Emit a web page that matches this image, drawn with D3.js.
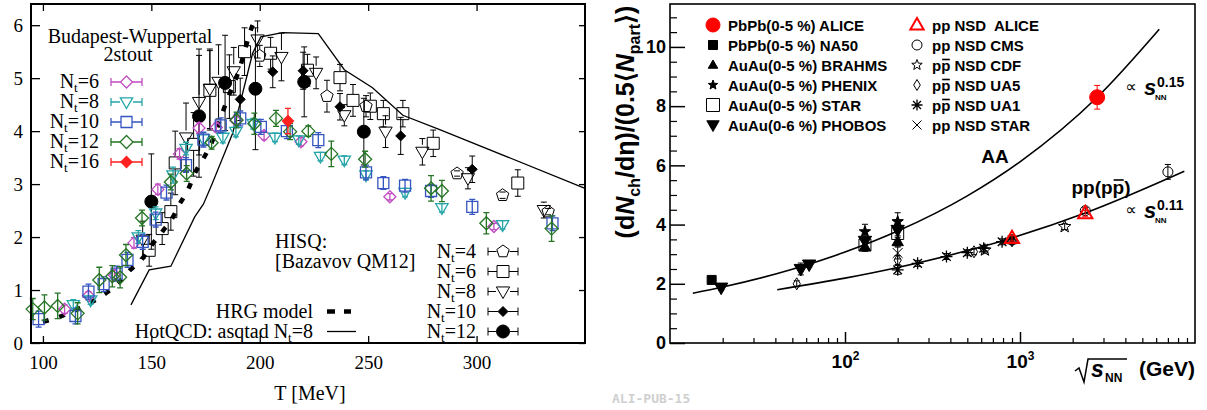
<!DOCTYPE html>
<html>
<head>
<meta charset="utf-8">
<script src="https://cdn.jsdelivr.net/npm/d3@7"></script>
<style>
body { margin: 0; background: #fff; }
svg { display: block; }
.serif { font-family: "Liberation Serif", "Times New Roman", serif; }
.sans { font-family: "Liberation Sans", Arial, sans-serif; font-weight: bold; }
</style>
</head>
<body>
<svg width="1207" height="410"></svg>
<script>
// ---------------- left panel data: [T (MeV), (e-3p)/T^4, error] ----------------
var bwNt6 = [[110,0.64,0.08],[121,0.89,0.08],[133,1.28,0.1],[142,1.89,0.1],[153,2.9,0.1],[163,3.57,0.1],
  [172,4.06,0.1],[180,4.07,0.08],[189,4.2,0.1],[202,3.92,0.08],[219,3.8,0.08],[260,2.76,0.06],[308,2.2,0.06]];
var bwNt8 = [[114,0.72,0.1],[122,0.81,0.08],[144,2.0,0.12],[152,2.45,0.12],[160,3.17,0.15],[166,3.67,0.12],
  [174,3.85,0.12],[183,3.88,0.1],[189,3.99,0.1],[197,4.14,0.1],[207,3.88,0.08],[218,3.83,0.08],[228,3.52,0.08],
  [239,3.45,0.08],[249,3.17,0.08],[267,2.84,0.08],[284,2.55,0.08],[312,2.23,0.08]];
var bwNt10 = [[98,0.45,0.15],[115,0.51,0.15],[121,0.97,0.14],[128,1.11,0.14],[134,1.31,0.14],[139,1.57,0.14],
  [146,1.91,0.14],[152,2.33,0.14],[157,2.84,0.14],[166,3.36,0.14],[174,3.84,0.14],[182,4.11,0.14],[191,4.24,0.14],
  [200.5,4.08,0.14],[212.5,4.0,0.14],[227,3.83,0.14],[249,3.22,0.14],[257,3.02,0.12],[267,2.97,0.12],
  [279,2.87,0.12],[298,2.57,0.14],[335,2.26,0.14]];
var bwNt12 = [[95.3,0.64,0.2],[100.7,0.67,0.24],[106.8,0.7,0.24],[116,0.56,0.2],[126,1.19,0.24],[132,1.26,0.2],
  [135.6,1.24,0.2],[138.3,1.66,0.2],[145.7,2.36,0.15],[159,3.04,0.15],[166.3,3.2,0.15],[177.8,3.78,0.12],
  [189.3,4.21,0.15],[197.5,4.14,0.2],[207.5,4.24,0.15],[214,3.99,0.15],[222.4,4.0,0.1],[233,3.57,0.24],
  [248.6,3.47,0.15],[279,2.92,0.24],[284,2.87,0.2],[304.5,2.26,0.2],[334.6,2.16,0.24]];
var bwNt16 = [[213,4.19,0.24]];

var hisqNt4 = [[200,5.42,0.2],[231,4.66,0.3],[249,4.47,0.2],[291,3.2,0.05],[312,2.79,0.06],[333,2.48,0.06]];
var hisqNt6 = [[149,1.75,0.3],[155,2.16,0.3],[159,2.48,0.35],[161,3.4,0.6],[169.5,3.75,0.6],[177,4.77,0.75],
  [186,4.84,0.6],[193,5.5,0.45],[205,5.47,0.3],[222,5.15,0.3],[237,5.01,0.25],[243,4.58,0.3],[251,4.47,0.25],
  [257,4.33,0.25],[266,4.33,0.25],[280,3.77,0.25],[319,3.02,0.25]];
var hisqNt8 = [[146,1.95,0.35],[166,3.88,0.65],[172,4.55,1.0],[177,4.8,0.75],[181,4.93,0.7],[188,5.13,0.45],
  [199,5.73,0.35],[210,5.4,0.45],[226,5.1,0.3],[239,4.3,0.2],[258,3.99,0.3],[275,3.61,0.25],[296,3.11,0.2],[331,2.51,0.15]];
var hisqNt10 = [[191,4.6,0.4],[206,5.12,0.3],[220,5.14,0.35],[237,4.46,0.25],[265,3.91,0.35],[298,3.28,0.25]];
var hisqNt12 = [[150,2.67,0.9],[172,4.28,1.15],[184,4.91,0.9],[198,4.8,1.15],[220.5,4.93,0.66],[248,3.99,0.63]];

var hrgModel = [[100,0.4],[108,0.5],[116,0.64],[122,0.76],[129,0.94],[135,1.14],[140,1.37],[146,1.6],[150,1.84],
  [155,2.1],[160,2.38],[163,2.62],[167,2.9],[170,3.2],[174,3.48],[178,3.8],[183,4.37],[186,4.7],[190,5.1],
  [193,5.5],[195,5.8],[198,6.13]];
var hotqcdAsqtad = [[140.6,0.72],[149,1.38],[159,1.45],[170,2.38],[174,2.62],[178,3.0],[187.5,3.96],[196.7,5.47],
  [200.5,5.78],[210.5,5.86],[227,5.84],[239,5.16],[252,4.82],[266,4.3],[283,4.03],[350,2.92]];

var tTicks = [100, 150, 200, 250, 300];
var eTicks = [0, 1, 2, 3, 4, 5, 6];

// ---------------- right panel data: [sqrt(s_NN) GeV, value, error] ----------------
var aliceAA = [[2760,8.3,0.4]];
var na50 = [[17.3,2.13,0.05]];
var brahms = [[130,3.25,0.15],[200,3.42,0.15]];
var phenix = [[130,3.76,0.25],[200,4.1,0.3]];
var starAA = [[130,3.31,0.2],[200,3.7,0.2]];
var phobos = [[19.6,1.87,0.1],[55.9,2.5,0.2],[62.4,2.65,0.1],[130,3.45,0.2],[200,3.82,0.2]];
var alicePP = [[900,3.54,0.1],[2360,4.38,0.1]];
var cmsPP = [[900,3.48,0.1],[2360,4.47,0.1],[7000,5.78,0.25]];
var cdfPP = [[630,3.14,0.1],[1800,3.93,0.1]];
var ua5PP = [[53,2.0,0.1],[200,2.8,0.15],[546,3.08,0.1],[900,3.45,0.1]];
var ua1PP = [[200,2.47,0.15],[260,2.69,0.1],[380,2.92,0.1],[500,3.05,0.1],[620,3.2,0.1],[790,3.42,0.1],[900,3.48,0.1]];
var starPP = [[200,3.04,0.2]];
var aaFit = [[13.5,1.68],[20,1.89],[50,2.49],[100,3.07],[200,3.78],[500,4.97],[1000,6.12],[2760,8.3],[6250,10.6]];
var ppFit = [[41,1.8],[100,2.19],[200,2.55],[546,3.18],[900,3.55],[2360,4.39],[8690,5.8]];

var multTicks = [0, 2, 4, 6, 8, 10];
var energyTicks = [100, 1000];

var svg = d3.select("svg");

function shapePath(type, r) {
  var s = "", i, a, rr;
  if (type == "circle") return d3.symbol(d3.symbolCircle, Math.PI * r * r)();
  if (type == "square") return "M" + (-r) + "," + (-r) + "H" + r + "V" + r + "H" + (-r) + "Z";
  if (type == "diamond") return "M0," + (-r) + "L" + r + ",0L0," + r + "L" + (-r) + ",0Z";
  if (type == "thinDiamond") return "M0," + (-r) + "L" + (0.6 * r) + ",0L0," + r + "L" + (-0.6 * r) + ",0Z";
  if (type == "triUp") return "M0," + (-r) + "L" + (0.95 * r) + "," + (0.65 * r) + "L" + (-0.95 * r) + "," + (0.65 * r) + "Z";
  if (type == "triDown") return "M0," + r + "L" + (0.95 * r) + "," + (-0.65 * r) + "L" + (-0.95 * r) + "," + (-0.65 * r) + "Z";
  if (type == "pentagon" || type == "star") {
    var n = type == "star" ? 10 : 5;
    for (i = 0; i < n; i++) {
      a = -Math.PI / 2 + i * 2 * Math.PI / n;
      rr = (type == "star" && i % 2) ? 0.42 * r : r;
      s += (i ? "L" : "M") + (rr * Math.cos(a)).toFixed(2) + "," + (rr * Math.sin(a)).toFixed(2);
    }
    return s + "Z";
  }
  if (type == "asterisk") {
    var k = 0.72 * r;
    return "M0," + (-r) + "V" + r + "M" + (-r) + ",0H" + r + "M" + (-k) + "," + (-k) + "L" + k + "," + k + "M" + k + "," + (-k) + "L" + (-k) + "," + k;
  }
  if (type == "times") return "M" + (-r) + "," + (-r) + "L" + r + "," + r + "M" + r + "," + (-r) + "L" + (-r) + "," + r;
  return "";
}

function drawPoints(g, x, y, data, o) {
  var grp = g.append("g");
  grp.selectAll("path.err").data(data.filter(function(d) { return d[2] > 0; }))
    .enter().append("path")
    .attr("d", function(d) {
      var cx = x(d[0]), cy = y(d[1]), t = y(d[1] + d[2]), b = y(d[1] - d[2]), c = o.cap;
      var s = "M" + (cx - c) + "," + t + "H" + (cx + c) + "M" + (cx - c) + "," + b + "H" + (cx + c);
      if (o.gap) {
        if (cy - t > o.r) s += "M" + cx + "," + t + "V" + (cy - o.r);
        if (b - cy > o.r) s += "M" + cx + "," + (cy + o.r) + "V" + b;
      } else s += "M" + cx + "," + t + "V" + b;
      return s;
    })
    .attr("fill", "none").attr("stroke", o.color).attr("stroke-width", o.ew || 1);
  grp.selectAll("path.pt").data(data).enter().append("path")
    .attr("transform", function(d) { return "translate(" + x(d[0]) + "," + y(d[1]) + ")"; })
    .attr("d", shapePath(o.shape, o.r))
    .attr("fill", o.filled ? o.color : "none")
    .attr("stroke", o.color)
    .attr("stroke-width", o.sw || 1);
}

// gnuplot style key sample: bar with caps and the marker in the middle
function keySample(g, x1, x2, y, o) {
  var cx = (x1 + x2) / 2;
  g.append("path")
    .attr("d", "M" + x1 + "," + (y - 4) + "V" + (y + 4) + "M" + x2 + "," + (y - 4) + "V" + (y + 4) +
      "M" + x1 + "," + y + "H" + (cx - o.r) + "M" + (cx + o.r) + "," + y + "H" + x2)
    .attr("stroke", o.color).attr("stroke-width", o.ew || 1).attr("fill", "none");
  g.append("path").attr("transform", "translate(" + cx + "," + y + ")")
    .attr("d", shapePath(o.shape, o.r))
    .attr("fill", o.filled ? o.color : "none").attr("stroke", o.color).attr("stroke-width", o.sw || 1);
}

function ntLabel(g, x, y, n, size) {
  var t = g.append("text").attr("class", "serif").attr("x", x).attr("y", y)
    .attr("text-anchor", "end").attr("font-size", size);
  t.append("tspan").text("N");
  t.append("tspan").attr("dy", 4).attr("font-size", 13).text("t");
  t.append("tspan").attr("dy", -4).text("=" + n);
}

// draw a bar over one character of a text (for p-bar)
function overbar(g, textSel, idx, lift) {
  var n = textSel.node(),
      a = n.getStartPositionOfChar(idx), b = n.getEndPositionOfChar(idx);
  g.append("path").attr("d", "M" + (a.x + 1) + "," + (a.y - lift) + "H" + (b.x - 0.5))
    .attr("stroke", "#000").attr("stroke-width", 1.6);
}

// ================= left panel =================
var xL = d3.scaleLinear().domain([94.5, 350]).range([31, 585]),
    yL = d3.scaleLinear().domain([0, 6.4]).range([343, 4]);

var gL = svg.append("g");

var styles = {
  bw6: {shape: "diamond", r: 6, color: "#c24cc2", cap: 3, sw: 1.3, ew: 1.3},
  bw8: {shape: "triDown", r: 6.5, color: "#25a5a8", cap: 3, sw: 1.3, ew: 1.3},
  bw10: {shape: "square", r: 5.5, color: "#3555c0", cap: 3, sw: 1.3, ew: 1.3},
  bw12: {shape: "diamond", r: 6.5, color: "#257525", cap: 3, sw: 1.3, ew: 1.3},
  bw16: {shape: "diamond", r: 5.5, color: "#ff2020", cap: 3, sw: 1.3, ew: 1.3, filled: true},
  h4: {shape: "pentagon", r: 6.5, color: "#000", cap: 3, gap: true},
  h6: {shape: "square", r: 6, color: "#000", cap: 3, gap: true},
  h8: {shape: "triDown", r: 7, color: "#000", cap: 3, gap: true},
  h10: {shape: "diamond", r: 5, color: "#000", cap: 3, filled: true},
  h12: {shape: "circle", r: 6.5, color: "#000", cap: 3, filled: true}
};

// HotQCD asqtad line
gL.append("path").datum(hotqcdAsqtad)
  .attr("d", d3.line().x(function(d) { return xL(d[0]); }).y(function(d) { return yL(d[1]); }))
  .attr("fill", "none").attr("stroke", "#000").attr("stroke-width", 1.3);

drawPoints(gL, xL, yL, hisqNt4, styles.h4);
drawPoints(gL, xL, yL, hisqNt6, styles.h6);
drawPoints(gL, xL, yL, hisqNt8, styles.h8);
drawPoints(gL, xL, yL, hisqNt10, styles.h10);
drawPoints(gL, xL, yL, hisqNt12, styles.h12);

// HRG model, thick dashed
gL.append("path").datum(hrgModel)
  .attr("d", d3.line().curve(d3.curveMonotoneX).x(function(d) { return xL(d[0]); }).y(function(d) { return yL(d[1]); }))
  .attr("fill", "none").attr("stroke", "#000").attr("stroke-width", 4.5).attr("stroke-dasharray", "6,11");

drawPoints(gL, xL, yL, bwNt6, styles.bw6);
drawPoints(gL, xL, yL, bwNt8, styles.bw8);
drawPoints(gL, xL, yL, bwNt10, styles.bw10);
drawPoints(gL, xL, yL, bwNt12, styles.bw12);
drawPoints(gL, xL, yL, bwNt16, styles.bw16);

// axes (ticks pointing inwards)
function styleAxis(sel, size) {
  sel.select(".domain").remove();
  sel.selectAll("line").attr("stroke-width", 1.3);
  sel.selectAll("text").attr("class", "serif").attr("font-size", size).attr("fill", "#000");
}
gL.append("g").attr("transform", "translate(0,343)")
  .call(d3.axisBottom(xL).tickValues(tTicks).tickSize(-7).tickPadding(13).tickFormat(d3.format("d")))
  .call(styleAxis, 19);
gL.append("g").attr("transform", "translate(0,4)")
  .call(d3.axisTop(xL).tickValues(tTicks).tickSize(-7).tickFormat(""))
  .call(styleAxis, 19);
gL.append("g").attr("transform", "translate(31,0)")
  .call(d3.axisLeft(yL).tickValues(eTicks).tickSize(-9).tickPadding(8).tickFormat(d3.format("d")))
  .call(styleAxis, 19);
gL.append("g").attr("transform", "translate(585,0)")
  .call(d3.axisRight(yL).tickValues(eTicks).tickSize(-6).tickFormat(""))
  .call(styleAxis, 19);
gL.append("rect").attr("x", 31).attr("y", 4).attr("width", 554).attr("height", 339)
  .attr("fill", "none").attr("stroke", "#000").attr("stroke-width", 2);

gL.append("text").attr("class", "serif").attr("x", 310).attr("y", 400)
  .attr("text-anchor", "middle").attr("font-size", 20).text("T [MeV]");

// Budapest-Wuppertal key
gL.append("text").attr("class", "serif").attr("x", 130).attr("y", 43)
  .attr("text-anchor", "middle").attr("font-size", 20).text("Budapest-Wuppertal");
gL.append("text").attr("class", "serif").attr("x", 128).attr("y", 61)
  .attr("text-anchor", "middle").attr("font-size", 20).text("2stout");
[["6", styles.bw6], ["8", styles.bw8], ["10", styles.bw10], ["12", styles.bw12], ["16", styles.bw16]]
  .forEach(function(k, i) {
    var yy = 82 + i * 20;
    ntLabel(gL, 99, yy + 6, k[0], 20);
    keySample(gL, 111, 142, yy, k[1]);
  });

// HISQ key
gL.append("text").attr("class", "serif").attr("x", 275).attr("y", 248)
  .attr("font-size", 20).text("HISQ:");
gL.append("text").attr("class", "serif").attr("x", 275).attr("y", 268)
  .attr("font-size", 20).text("[Bazavov QM12]");
[["4", styles.h4], ["6", styles.h6], ["8", styles.h8], ["10", styles.h10], ["12", styles.h12]]
  .forEach(function(k, i) {
    var yy = 251.5 + i * 20;
    ntLabel(gL, 476, yy + 6, k[0], 20);
    keySample(gL, 488, 518, yy, k[1]);
  });

gL.append("text").attr("class", "serif").attr("x", 313).attr("y", 318)
  .attr("text-anchor", "end").attr("font-size", 20).text("HRG model");
gL.append("path").attr("d", "M327,311.5H351").attr("stroke", "#000").attr("stroke-width", 4.5)
  .attr("stroke-dasharray", "8,9");
var hq = gL.append("text").attr("class", "serif").attr("x", 313).attr("y", 338)
  .attr("text-anchor", "end").attr("font-size", 20);
hq.append("tspan").text("HotQCD: asqtad N");
hq.append("tspan").attr("dy", 4).attr("font-size", 13).text("t");
hq.append("tspan").attr("dy", -4).text("=8");
gL.append("path").attr("d", "M327,331.5H356").attr("stroke", "#000").attr("stroke-width", 1.3);

// ================= right panel =================
var xR = d3.scaleLog().domain([10, 10000]).range([670, 1195]),
    yR = d3.scaleLinear().domain([0, 11.45]).range([343, 4]);

var gR = svg.append("g");

var fitLine = d3.line().curve(d3.curveMonotoneX)
  .x(function(d) { return xR(d[0]); }).y(function(d) { return yR(d[1]); });
gR.append("path").datum(aaFit).attr("d", fitLine)
  .attr("fill", "none").attr("stroke", "#000").attr("stroke-width", 1.6);
gR.append("path").datum(ppFit).attr("d", fitLine)
  .attr("fill", "none").attr("stroke", "#000").attr("stroke-width", 1.6);

var rs = {
  aliceAA: {shape: "circle", r: 7.5, color: "#ff0000", filled: true, cap: 3},
  na50: {shape: "square", r: 4.5, color: "#000", filled: true, cap: 3},
  brahms: {shape: "triUp", r: 6, color: "#000", filled: true, cap: 3},
  phenix: {shape: "star", r: 6, color: "#000", filled: true, cap: 3},
  starAA: {shape: "square", r: 6, color: "#000", cap: 3},
  phobos: {shape: "triDown", r: 7, color: "#000", filled: true, cap: 3},
  alicePP: {shape: "triUp", r: 7.5, color: "#ff0000", sw: 2, cap: 3},
  cms: {shape: "circle", r: 5, color: "#000", cap: 3},
  cdf: {shape: "star", r: 6.5, color: "#000", cap: 3},
  ua5: {shape: "thinDiamond", r: 6, color: "#000", cap: 3},
  ua1: {shape: "asterisk", r: 6, color: "#000", sw: 1.3, cap: 3},
  starPP: {shape: "times", r: 5, color: "#000", cap: 3}
};

drawPoints(gR, xR, yR, starAA, rs.starAA);
drawPoints(gR, xR, yR, brahms, rs.brahms);
drawPoints(gR, xR, yR, phobos, rs.phobos);
drawPoints(gR, xR, yR, phenix, rs.phenix);
drawPoints(gR, xR, yR, na50, rs.na50);
drawPoints(gR, xR, yR, ua5PP, rs.ua5);
drawPoints(gR, xR, yR, ua1PP, rs.ua1);
drawPoints(gR, xR, yR, starPP, rs.starPP);
drawPoints(gR, xR, yR, cdfPP, rs.cdf);
drawPoints(gR, xR, yR, cmsPP, rs.cms);
drawPoints(gR, xR, yR, alicePP, rs.alicePP);
drawPoints(gR, xR, yR, aliceAA, rs.aliceAA);

// axes
var minorY = d3.range(0, 11.5, 0.5).filter(function(v) { return v % 2 != 0; });
gR.append("g").attr("transform", "translate(670,0)")
  .call(d3.axisLeft(yR).tickValues(minorY).tickSize(-7).tickFormat(""))
  .call(function(s) { s.select(".domain").remove(); s.selectAll("line").attr("stroke-width", 1.2); });
gR.append("g").attr("transform", "translate(670,0)")
  .call(d3.axisLeft(yR).tickValues(multTicks).tickSize(-15).tickPadding(4))
  .call(function(s) {
    s.select(".domain").remove();
    s.selectAll("line").attr("stroke-width", 1.5);
    s.selectAll("text").attr("class", "sans").attr("font-size", 18).attr("fill", "#000");
  });
var minorX = [];
[10, 100, 1000].forEach(function(dec) { for (var m = 2; m <= 9; m++) minorX.push(dec * m); });
gR.append("g").attr("transform", "translate(0,343)")
  .call(d3.axisBottom(xR).tickValues(minorX).tickSize(-5).tickFormat(""))
  .call(function(s) { s.select(".domain").remove(); s.selectAll("line").attr("stroke-width", 1.2); });
gR.append("g").attr("transform", "translate(0,343)")
  .call(d3.axisBottom(xR).tickValues(energyTicks).tickSize(-11).tickFormat(""))
  .call(function(s) { s.select(".domain").remove(); s.selectAll("line").attr("stroke-width", 1.5); })
  .selectAll(".tick").append("text")
    .attr("class", "sans").attr("y", 25).attr("text-anchor", "middle").attr("font-size", 19).attr("fill", "#000")
    .each(function(d) {
      var t = d3.select(this);
      t.append("tspan").text("10");
      t.append("tspan").attr("dy", -8).attr("font-size", 12).text(Math.round(Math.log10(d)));
    });
gR.append("rect").attr("x", 670).attr("y", 4).attr("width", 525).attr("height", 339)
  .attr("fill", "none").attr("stroke", "#000").attr("stroke-width", 1.6);

// y title
var yt = gR.append("text").attr("class", "sans").attr("transform", "translate(634,122) rotate(-90)")
  .attr("text-anchor", "middle").attr("font-size", 25);
yt.append("tspan").text("(d");
yt.append("tspan").attr("font-style", "italic").text("N");
yt.append("tspan").attr("dy", 6).attr("font-size", 16).text("ch");
yt.append("tspan").attr("dy", -6).text("/d\u03B7)/(0.5\u27E8");
yt.append("tspan").attr("font-style", "italic").text("N");
yt.append("tspan").attr("dy", 6).attr("font-size", 16).text("part");
yt.append("tspan").attr("dy", -6).text("\u27E9)");

// x title
gR.append("path").attr("d", "M1075,371L1079,368L1084,382L1088,359H1127")
  .attr("fill", "none").attr("stroke", "#000").attr("stroke-width", 1.5);
gR.append("text").attr("class", "sans").attr("x", 1091).attr("y", 377)
  .attr("font-size", 23).attr("font-style", "italic").text("s");
gR.append("text").attr("class", "sans").attr("x", 1105).attr("y", 382)
  .attr("font-size", 12).text("NN");
gR.append("text").attr("class", "sans").attr("x", 1195).attr("y", 376)
  .attr("text-anchor", "end").attr("font-size", 21).text("(GeV)");

// legend
var legendAA = [["PbPb(0-5 %) ALICE", rs.aliceAA, 7], ["PbPb(0-5 %) NA50", rs.na50, 4.5],
  ["AuAu(0-5 %) BRAHMS", rs.brahms, 5], ["AuAu(0-5 %) PHENIX", rs.phenix, 5],
  ["AuAu(0-5 %) STAR", rs.starAA, 6.5], ["AuAu(0-6 %) PHOBOS", rs.phobos, 6.5]];
var legendPP = [["pp NSD  ALICE", rs.alicePP, 7, false], ["pp NSD CMS", rs.cms, 5, false],
  ["pp NSD CDF", rs.cdf, 5.5, true], ["pp NSD UA5", rs.ua5, 5.5, true],
  ["pp NSD UA1", rs.ua1, 5.5, true], ["pp NSD STAR", rs.starPP, 4.5, false]];

function legendEntry(x, y, l) {
  var o = l[1];
  gR.append("path").attr("transform", "translate(" + x + "," + y + ")")
    .attr("d", shapePath(o.shape, l[2]))
    .attr("fill", o.filled ? o.color : "none").attr("stroke", o.color).attr("stroke-width", o.sw || 1);
  var t = gR.append("text").attr("class", "sans").attr("x", x + 15).attr("y", y + 5.5)
    .attr("font-size", 15).attr("xml:space", "preserve").text(l[0]);
  if (l[3]) overbar(gR, t, 1, 11);
}
legendAA.forEach(function(l, i) { legendEntry(713, 25 + i * 20, l); });
legendPP.forEach(function(l, i) { legendEntry(917, 25 + i * 20, l); });

// annotations
gR.append("text").attr("class", "sans").attr("x", 995).attr("y", 163)
  .attr("text-anchor", "middle").attr("font-size", 19).text("AA");
var ppt = gR.append("text").attr("class", "sans").attr("x", 1101).attr("y", 194)
  .attr("text-anchor", "middle").attr("font-size", 19).text("pp(pp)");
overbar(gR, ppt, 4, 14);

function powerLabel(y, p) {
  gR.append("text").attr("x", 1131).attr("y", y - 3).attr("text-anchor", "middle")
    .attr("font-family", "DejaVu Sans").attr("font-size", 16).text("\u221D");
  gR.append("text").attr("class", "sans").attr("x", 1144).attr("y", y)
    .attr("font-size", 22).attr("font-style", "italic").text("s");
  gR.append("text").attr("class", "sans").attr("x", 1157).attr("y", y - 8)
    .attr("font-size", 14).text(p);
  gR.append("text").attr("class", "sans").attr("x", 1155).attr("y", y + 5)
    .attr("font-size", 8).text("NN");
}
powerLabel(95, "0.15");
powerLabel(218, "0.11");

svg.append("text").attr("x", 612).attr("y", 403)
  .attr("font-family", "DejaVu Sans Mono").attr("font-weight", "bold").attr("font-size", 13)
  .attr("fill", "#d0d0d0").text("ALI-PUB-15");
</script>
</body>
</html>
